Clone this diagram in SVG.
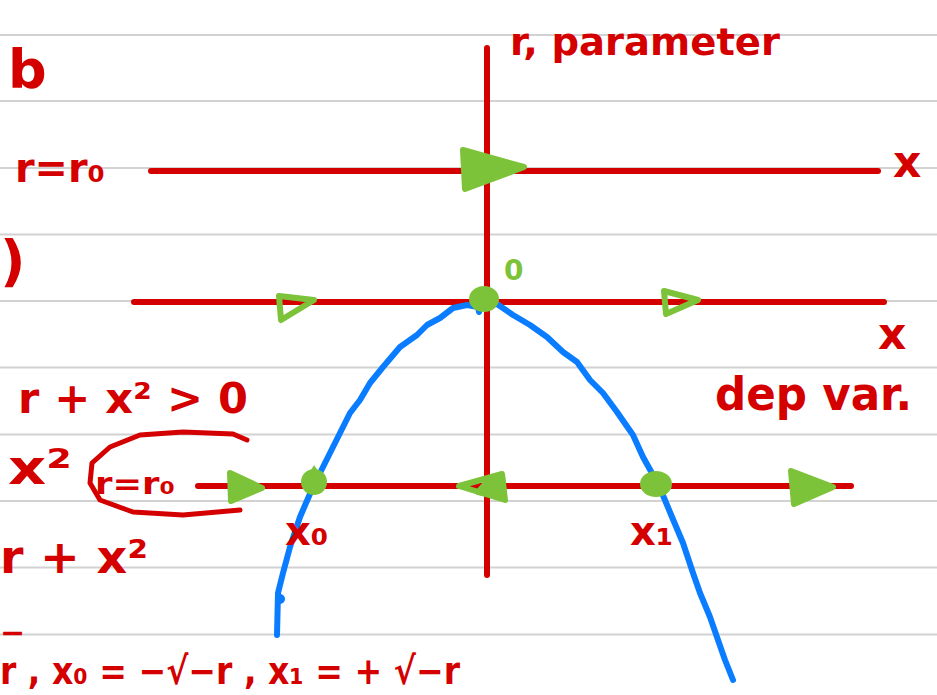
<svg xmlns="http://www.w3.org/2000/svg" width="937" height="695" viewBox="0 0 937 695">
<style>
.rule{stroke:#d2d2d2;stroke-width:2}
.ax{stroke:#d40000;stroke-width:6;stroke-linecap:round;fill:none}
.ink{stroke:#d40000;stroke-width:5;stroke-linecap:round;stroke-linejoin:round;fill:none}
.t{font-family:"DejaVu Sans",sans-serif;font-weight:bold;fill:#d40000}
.g{fill:#7dc33a;stroke:#7dc33a;stroke-width:6;stroke-linejoin:round}
.go{fill:none;stroke:#7dc33a;stroke-width:6;stroke-linejoin:round}
.blue{fill:none;stroke:#0a7cff;stroke-width:6;stroke-linecap:round;stroke-linejoin:round}
</style>
<rect width="937" height="695" fill="#fff"/>
<g id="rules">
<line class="rule" x1="0" y1="35" x2="937" y2="35"/>
<line class="rule" x1="0" y1="101" x2="937" y2="101"/>
<line class="rule" x1="0" y1="168" x2="937" y2="168"/>
<line class="rule" x1="0" y1="234.5" x2="937" y2="234.5"/>
<line class="rule" x1="0" y1="301" x2="937" y2="301"/>
<line class="rule" x1="0" y1="367.5" x2="937" y2="367.5"/>
<line class="rule" x1="0" y1="434.5" x2="937" y2="434.5"/>
<line class="rule" x1="0" y1="501" x2="937" y2="501"/>
<line class="rule" x1="0" y1="567.5" x2="937" y2="567.5"/>
<line class="rule" x1="0" y1="634.5" x2="937" y2="634.5"/>
</g>
<g id="axes">
<line class="ax" x1="487" y1="48" x2="487" y2="575"/>
<line class="ax" x1="151" y1="171" x2="878" y2="171"/>
<line class="ax" x1="134" y1="302" x2="884" y2="302"/>
<line class="ax" x1="198" y1="486" x2="851" y2="486"/>
</g>
<g id="curve">
<path class="blue" d="M479,312 L478,307 L467,305 L453,308 L440,318 L427,325 L417,335 L400,347 L383,367 L370,383 L360,400 L350,413 L343,427 L333,447 L323,467 L313,487 L306,503 L300,517 L290,547 L283,573 L278,593 L277,635"/>
<circle cx="280" cy="599" r="5" fill="#0a7cff"/>
<path class="blue" d="M488,305 L497,304 L513,315 L530,325 L547,337 L563,352 L577,362 L590,380 L603,393 L617,412 L633,435 L643,457 L653,475 L662,493 L672,517 L683,543 L693,573 L700,593 L710,617 L718,640 L725,660 L733,680"/>
</g>
<g id="flow">
<path class="g" d="M463,150 L524,167 L465,189 Z"/>
<path class="go" d="M279,296 L314,300 L281,320 Z"/>
<path class="go" d="M664,291 L698,300 L666,314 Z"/>
<path class="g" d="M230,473 L262,488 L231,501 Z"/>
<path class="go" d="M459,486 L502,474 L505,500 Z"/>
<path class="g" d="M491,478 L502,476 L504,497 L478,492 Z"/>
<path class="g" d="M791,471 L833,487 L794,504 Z"/>
</g>
<g id="fixed-points">
<ellipse cx="484" cy="299" rx="15" ry="13" fill="#7dc33a"/>
<ellipse cx="314" cy="482" rx="13" ry="13" fill="#7dc33a"/>
<path d="M304,482 L314,465 L324,480 Z" fill="#7dc33a"/>
<ellipse cx="656" cy="484" rx="16" ry="13" fill="#7dc33a"/>
</g>
<g id="labels">
<text class="t" x="8" y="88" font-size="54">b</text>
<text class="t" x="15" y="182" font-size="40" textLength="90" lengthAdjust="spacingAndGlyphs">r=r₀</text>
<text class="t" x="0" y="280" font-size="56">)</text>
<text class="t" x="510" y="55" font-size="38" textLength="270" lengthAdjust="spacingAndGlyphs">r, parameter</text>
<text class="t" x="893" y="177" font-size="44">x</text>
<text class="t" x="878" y="349" font-size="44">x</text>
<text class="t" x="715" y="410" font-size="46" textLength="197" lengthAdjust="spacingAndGlyphs">dep var.</text>
<text class="t" x="18" y="413" font-size="42" textLength="230" lengthAdjust="spacingAndGlyphs">r + x² &gt; 0</text>
<text class="t" x="8" y="484" font-size="48" textLength="64" lengthAdjust="spacingAndGlyphs">x²</text>
<text class="t" x="95" y="494" font-size="30" textLength="80" lengthAdjust="spacingAndGlyphs">r=r₀</text>
<path class="ink" d="M247,440 L233,434 L183,432 L140,435 L110,447 L92,463 L90,483 L100,500 L133,512 L183,515 L240,510"/>
<text class="t" x="0" y="573" font-size="46" textLength="148" lengthAdjust="spacingAndGlyphs">r + x²</text>
<text class="t" x="285" y="545" font-size="40">x₀</text>
<text class="t" x="630" y="545" font-size="40">x₁</text>
<text class="t" x="0" y="643" font-size="30">−</text>
<text class="t" x="0" y="684" font-size="38" textLength="460" lengthAdjust="spacingAndGlyphs">r , x₀ = −√−r , x₁ = + √−r</text>
<text x="504" y="280" font-size="28" font-family="DejaVu Sans,sans-serif" font-weight="bold" fill="#7dc33a">0</text>
</g>
</svg>
